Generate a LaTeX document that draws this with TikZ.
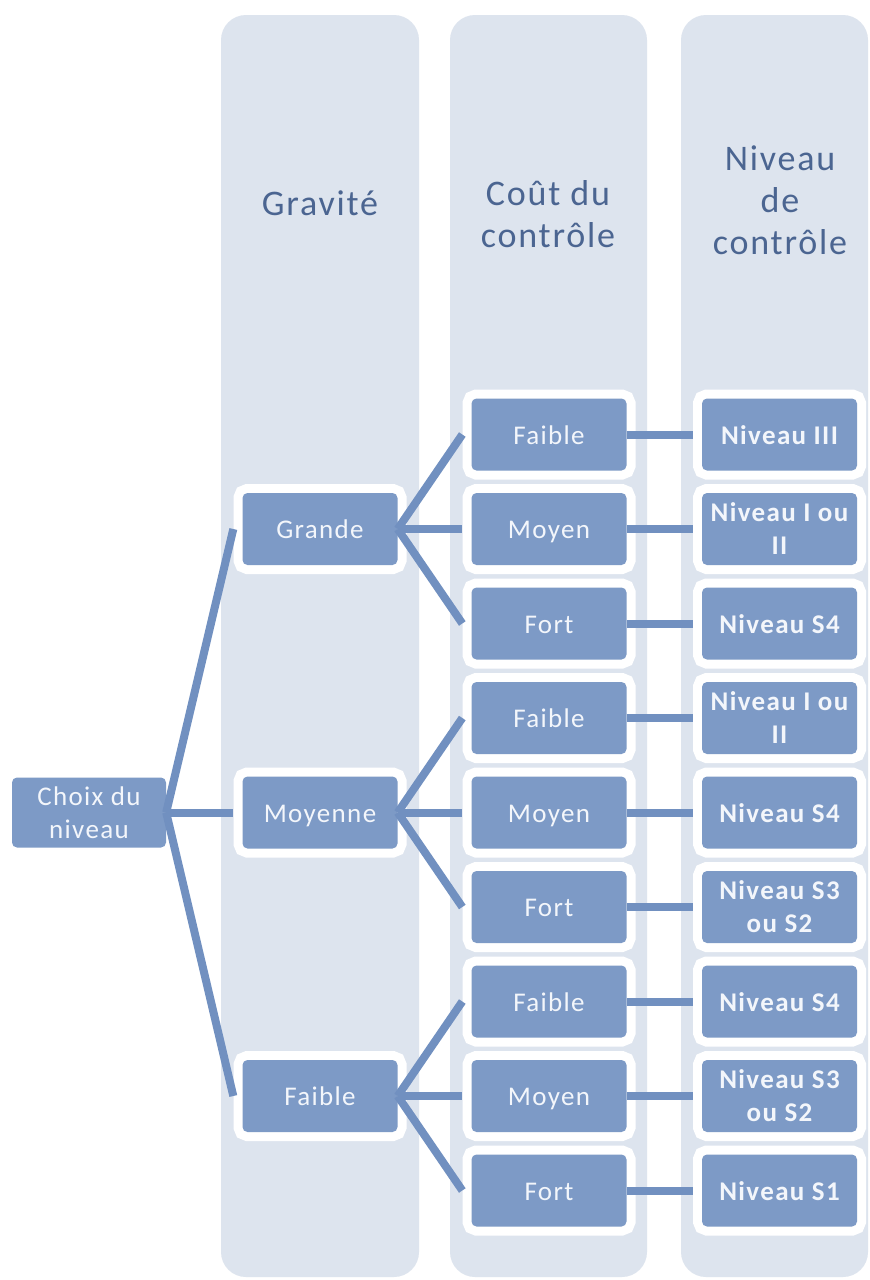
\documentclass[tikz,border=0pt]{standalone}
\usepackage{fontspec}
\setmainfont[LetterSpace=5]{Carlito}
\definecolor{colbg}{HTML}{DDE4EE}
\definecolor{boxbl}{HTML}{7D9AC6}
\definecolor{linebl}{HTML}{7190C0}
\definecolor{headtxt}{HTML}{4B6591}
\definecolor{boxtxt}{HTML}{F3F6FB}
\begin{document}
\begin{tikzpicture}[x=1pt,y=-1pt,
  colbox/.style={fill=colbg, rounded corners=25pt},
  item/.style={fill=boxbl, rounded corners=5pt, minimum width=155pt, minimum height=72pt,
    inner sep=2pt, align=center, text=boxtxt, font=\fontsize{27}{33}\selectfont,
    preaction={draw=white, line width=18pt}},
  one/.style={text height=19pt, text depth=0pt},
  lvl/.style={item, font=\fontsize{27}{33}\selectfont\bfseries},
  head/.style={text=headtxt, align=center, font=\fontsize{36}{42}\selectfont, inner sep=0pt},
  conn/.style={draw=linebl, line width=8pt},
]
\useasboundingbox (0,0) rectangle (870,1280);
\fill[white] (0,0) rectangle (870,1280);
% columns
\path[colbox] (221,15) rectangle (419,1277);
\path[colbox] (450,15) rectangle (647,1277);
\path[colbox] (681,15) rectangle (868,1277);
% headers
\node[head] (h1) at (320,203) {Gravité};
\node[head] (h2) at (548,214) {Coût du\\contrôle};
\node[head] (h3) at (780,200) {Niveau\\de\\contrôle};
% root
\node[item, minimum width=154pt, minimum height=70pt] (root) at (89,812.5) {Choix du\\niveau};
% gravity
\node[item, one] (g1) at (320,529) {Grande};
\node[item, one] (g2) at (320,812.5) {Moyenne};
\node[item, one] (g3) at (320,1096) {Faible};
% cost
\node[item, one] (c1) at (549,434.5) {Faible};
\node[item, one] (c2) at (549,529) {Moyen};
\node[item, one] (c3) at (549,623.5) {Fort};
\node[item, one] (c4) at (549,718) {Faible};
\node[item, one] (c5) at (549,812.5) {Moyen};
\node[item, one] (c6) at (549,907) {Fort};
\node[item, one] (c7) at (549,1001.5) {Faible};
\node[item, one] (c8) at (549,1096) {Moyen};
\node[item, one] (c9) at (549,1190.5) {Fort};
% levels
\node[lvl, one] (n1) at (779.5,434.5) {Niveau III};
\node[lvl] (n2) at (779.5,529) {Niveau I ou\\II};
\node[lvl, one] (n3) at (779.5,623.5) {Niveau S4};
\node[lvl] (n4) at (779.5,718) {Niveau I ou\\II};
\node[lvl, one] (n5) at (779.5,812.5) {Niveau S4};
\node[lvl] (n6) at (779.5,907) {Niveau S3\\ou S2};
\node[lvl, one] (n7) at (779.5,1001.5) {Niveau S4};
\node[lvl] (n8) at (779.5,1096) {Niveau S3\\ou S2};
\node[lvl, one] (n9) at (779.5,1190.5) {Niveau S1};
% connectors
\foreach \g in {g1,g2,g3}
  \draw[conn] (root.east) -- ([xshift=-9pt]\g.west);
\foreach \c in {c1,c2,c3} \draw[conn] (g1.east) -- ([xshift=-9pt]\c.west);
\foreach \c in {c4,c5,c6} \draw[conn] (g2.east) -- ([xshift=-9pt]\c.west);
\foreach \c in {c7,c8,c9} \draw[conn] (g3.east) -- ([xshift=-9pt]\c.west);
\foreach \i in {1,...,9} \draw[conn] (c\i.east) -- ([xshift=-9pt]n\i.west);
\end{tikzpicture}
\end{document}
